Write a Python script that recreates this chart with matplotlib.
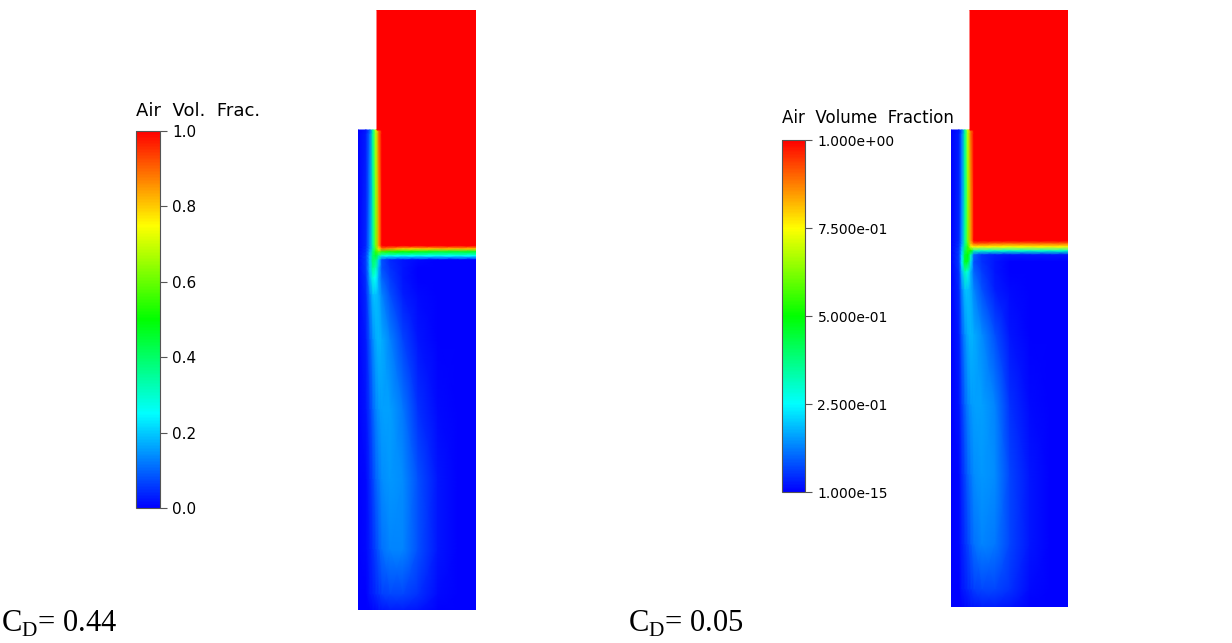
import numpy as np
import matplotlib
matplotlib.use("Agg")
import matplotlib.pyplot as plt
from matplotlib.colors import LinearSegmentedColormap, Normalize
from matplotlib.cm import ScalarMappable

plt.rcParams['mathtext.fontset'] = 'custom'
plt.rcParams['mathtext.rm'] = 'Liberation Serif'

# Fluent style rainbow: blue -> cyan -> green -> yellow -> red
fluent = LinearSegmentedColormap.from_list(
    'fluent', ['#0000ff', '#00ffff', '#00ff00', '#ffff00', '#ff0000'])

# ---- case A (C_D = 0.44): air volume fraction sampled on mesh nodes ----
xa_nodes = [0, 8, 12, 15, 18, 21, 24, 32, 45, 60, 80, 100, 118]
ya_nodes = [120, 124, 236, 239, 242, 246, 250, 258, 268, 285, 330, 400, 470, 540, 585, 600]
vof_a = [
    [0, 0.02, 0.10, 0.35, 0.70, 0.90, 1.00, 1, 1, 1, 1, 1, 1],
    [0, 0.03, 0.12, 0.35, 0.68, 0.90, 1.00, 1, 1, 1, 1, 1, 1],
    [0, 0.04, 0.15, 0.35, 0.62, 0.85, 1.00, 1, 1, 1, 1, 1, 1],
    [0, 0.05, 0.16, 0.36, 0.60, 0.78, 0.88, 0.85, 0.80, 0.80, 0.82, 0.82, 0.82],
    [0, 0.05, 0.18, 0.38, 0.55, 0.60, 0.55, 0.52, 0.50, 0.48, 0.45, 0.45, 0.45],
    [0, 0.06, 0.20, 0.40, 0.45, 0.35, 0.28, 0.26, 0.25, 0.25, 0.25, 0.25, 0.25],
    [0, 0.06, 0.20, 0.40, 0.38, 0.20, 0.08, 0.04, 0.02, 0.01, 0, 0, 0],
    [0, 0.06, 0.20, 0.36, 0.32, 0.17, 0.08, 0.05, 0.02, 0, 0, 0, 0],
    [0, 0.05, 0.18, 0.28, 0.25, 0.16, 0.10, 0.06, 0.02, 0, 0, 0, 0],
    [0, 0.04, 0.13, 0.19, 0.19, 0.17, 0.13, 0.08, 0.03, 0.01, 0, 0, 0],
    [0, 0.03, 0.09, 0.14, 0.17, 0.18, 0.17, 0.13, 0.07, 0.02, 0, 0, 0],
    [0, 0.02, 0.06, 0.10, 0.13, 0.15, 0.16, 0.16, 0.12, 0.05, 0.01, 0, 0],
    [0, 0.01, 0.04, 0.07, 0.10, 0.12, 0.14, 0.15, 0.14, 0.08, 0.02, 0, 0],
    [0, 0.01, 0.03, 0.05, 0.07, 0.09, 0.11, 0.13, 0.13, 0.08, 0.02, 0, 0],
    [0, 0.00, 0.02, 0.03, 0.04, 0.05, 0.06, 0.07, 0.07, 0.05, 0.01, 0, 0],
    [0, 0.00, 0.00, 0.01, 0.01, 0.02, 0.02, 0.03, 0.03, 0.02, 0.00, 0, 0],
]
air_block_a = ([19, 118], [0, 120])

# ---- case B (C_D = 0.05) ----
xb_nodes = [0, 8, 11, 14, 17, 20, 23, 31, 44, 59, 79, 99, 117]
yb_nodes = [120, 124, 231, 234, 237, 241, 245, 252, 262, 280, 325, 395, 465, 535, 580, 597]
vof_b = [
    [0, 0.02, 0.10, 0.35, 0.70, 0.90, 1.00, 1, 1, 1, 1, 1, 1],
    [0, 0.03, 0.12, 0.35, 0.68, 0.90, 1.00, 1, 1, 1, 1, 1, 1],
    [0, 0.04, 0.15, 0.35, 0.62, 0.85, 1.00, 1, 1, 1, 1, 1, 1],
    [0, 0.05, 0.16, 0.36, 0.60, 0.82, 0.90, 0.90, 0.88, 0.88, 0.88, 0.88, 0.88],
    [0, 0.05, 0.18, 0.38, 0.55, 0.76, 0.76, 0.76, 0.76, 0.74, 0.76, 0.76, 0.76],
    [0, 0.06, 0.20, 0.42, 0.55, 0.50, 0.32, 0.30, 0.30, 0.30, 0.30, 0.30, 0.30],
    [0, 0.06, 0.22, 0.45, 0.50, 0.32, 0.10, 0.05, 0.03, 0.02, 0.02, 0.02, 0.02],
    [0, 0.06, 0.24, 0.48, 0.46, 0.22, 0.08, 0.05, 0.02, 0, 0, 0, 0],
    [0, 0.05, 0.19, 0.32, 0.28, 0.17, 0.10, 0.06, 0.02, 0, 0, 0, 0],
    [0, 0.04, 0.13, 0.19, 0.19, 0.17, 0.13, 0.08, 0.03, 0.01, 0, 0, 0],
    [0, 0.03, 0.09, 0.14, 0.17, 0.18, 0.17, 0.14, 0.08, 0.02, 0, 0, 0],
    [0, 0.02, 0.06, 0.10, 0.13, 0.15, 0.16, 0.16, 0.13, 0.05, 0.01, 0, 0],
    [0, 0.01, 0.04, 0.07, 0.10, 0.12, 0.14, 0.15, 0.14, 0.07, 0.02, 0, 0],
    [0, 0.01, 0.03, 0.05, 0.07, 0.09, 0.11, 0.13, 0.12, 0.07, 0.02, 0, 0],
    [0, 0.00, 0.02, 0.03, 0.04, 0.05, 0.06, 0.07, 0.07, 0.05, 0.01, 0, 0],
    [0, 0.00, 0.00, 0.01, 0.01, 0.02, 0.02, 0.03, 0.03, 0.02, 0.00, 0, 0],
]
air_block_b = ([19, 117], [0, 120])

ticks_a = [0.0, 0.2, 0.4, 0.6, 0.8, 1.0]
ticklabels_a = ['0.0', '0.2', '0.4', '0.6', '0.8', '1.0']
ticks_b = [1e-15, 0.25, 0.5, 0.75, 1.0]
ticklabels_b = ['1.000e-15', '2.500e-01', '5.000e-01', '7.500e-01', '1.000e+00']

W, H = 1232, 643
fig = plt.figure(figsize=(W / 100, H / 100), dpi=100)


def px_axes(x0, y0, x1, y1):
    # axes from pixel box (top-left origin)
    return fig.add_axes([x0 / W, (H - y1) / H, (x1 - x0) / W, (y1 - y0) / H])


def draw_field(box, xn, yn, vof, block, width, height):
    ax = px_axes(*box)
    X, Y = np.meshgrid(xn, yn)
    ax.pcolormesh(X, Y, np.array(vof), shading='gouraud', cmap=fluent,
                  vmin=0, vmax=1, antialiased=False)
    bx, by = np.meshgrid(block[0], block[1])
    ax.pcolormesh(bx, by, np.ones((2, 2)), shading='gouraud', cmap=fluent,
                  vmin=0, vmax=1, antialiased=False)
    ax.set_xlim(0, width)
    ax.set_ylim(height, 0)
    ax.axis('off')


def draw_cbar(box, vmin, ticks, labels, title, title_y, fs, tfs):
    cax = px_axes(*box)
    sm = ScalarMappable(norm=Normalize(vmin, 1.0), cmap=fluent)
    cb = fig.colorbar(sm, cax=cax, orientation='vertical')
    cb.set_ticks(ticks)
    cb.set_ticklabels(labels)
    cb.outline.set_edgecolor('#555555')
    cb.outline.set_linewidth(0.8)
    cax.tick_params(direction='out', length=5, width=0.8, color='#555555',
                    labelsize=fs, pad=4)
    fig.text(box[0] / W, 1 - title_y / H, title, fontsize=tfs, va='center', ha='left')


draw_field((358, 10, 476, 610), xa_nodes, ya_nodes, vof_a, air_block_a, 118, 600)
draw_field((951, 10, 1068, 607), xb_nodes, yb_nodes, vof_b, air_block_b, 117, 597)

draw_cbar((136, 131, 160, 508), 0.0, ticks_a, ticklabels_a, 'Air  Vol.  Frac.', 111, 11, 13)
draw_cbar((782, 140, 805, 492), 1e-15, ticks_b, ticklabels_b, 'Air  Volume  Fraction', 118, 10, 12)

fig.text(1 / W, 1 - 624 / H, r'C$_\mathregular{D}$= 0.44', fontsize=22,
         family='Liberation Serif', va='center', ha='left')
fig.text(628 / W, 1 - 624 / H, r'C$_\mathregular{D}$= 0.05', fontsize=22,
         family='Liberation Serif', va='center', ha='left')

fig.savefig('out.png', dpi=100)
